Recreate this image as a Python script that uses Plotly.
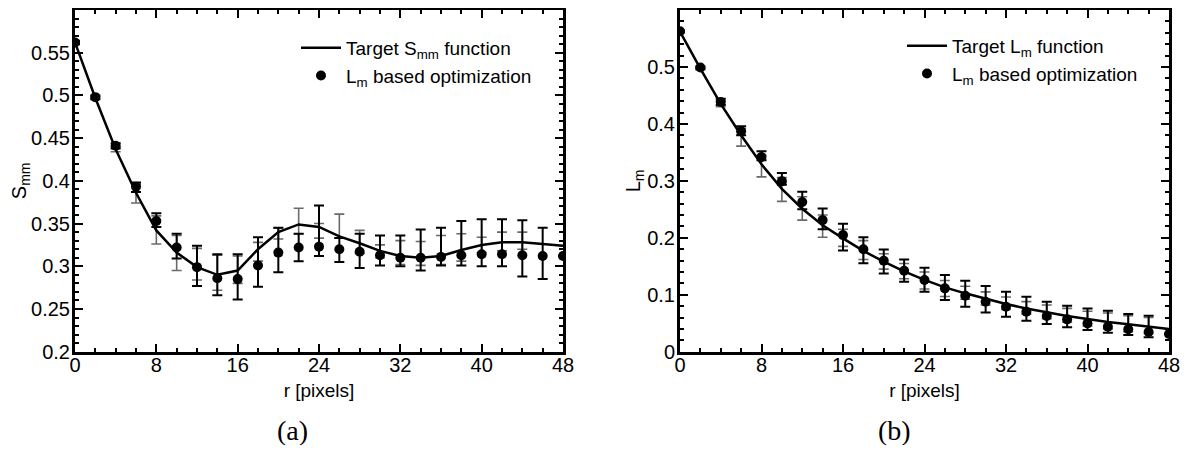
import plotly.graph_objects as go

# ---------------- data ----------------
r = [0, 2, 4, 6, 8, 10, 12, 14, 16, 18, 20, 22, 24, 26, 28, 30, 32, 34, 36, 38, 40, 42, 44, 46, 48]

# Panel (a): S_mm
smm_target = [0.562, 0.497, 0.437, 0.386, 0.342, 0.316, 0.299, 0.290, 0.295, 0.320, 0.340, 0.349, 0.346,
              0.335, 0.327, 0.318, 0.312, 0.310, 0.312, 0.319, 0.325, 0.328, 0.328, 0.326, 0.324]
smm_target_hi = [0.563, 0.499, 0.440, 0.396, 0.359, 0.336, 0.321, 0.313, 0.312, 0.328, 0.345, 0.368, 0.350,
                 0.361, 0.342, 0.325, 0.330, 0.329, 0.336, 0.338, 0.334, 0.340, 0.340, 0.326, 0.324]
smm_target_lo = [0.561, 0.495, 0.434, 0.374, 0.326, 0.295, 0.284, 0.272, 0.280, 0.306, 0.332, 0.338, 0.333,
                 0.333, 0.315, 0.310, 0.302, 0.301, 0.302, 0.306, 0.316, 0.318, 0.320, 0.326, 0.324]
smm_opt = [0.562, 0.498, 0.441, 0.393, 0.353, 0.322, 0.299, 0.286, 0.285, 0.301, 0.316, 0.322, 0.323,
           0.320, 0.317, 0.313, 0.310, 0.310, 0.311, 0.313, 0.314, 0.314, 0.313, 0.312, 0.312]
smm_opt_hi = [0.564, 0.500, 0.444, 0.398, 0.362, 0.338, 0.324, 0.314, 0.314, 0.334, 0.345, 0.338, 0.371,
              0.333, 0.338, 0.336, 0.336, 0.343, 0.345, 0.353, 0.355, 0.355, 0.354, 0.345, 0.312]
smm_opt_lo = [0.560, 0.496, 0.438, 0.387, 0.346, 0.309, 0.277, 0.266, 0.261, 0.276, 0.293, 0.306, 0.312,
              0.305, 0.298, 0.301, 0.300, 0.295, 0.301, 0.301, 0.300, 0.300, 0.288, 0.285, 0.312]

# Panel (b): L_m
lm_target = [0.562, 0.497, 0.435, 0.380, 0.329, 0.286, 0.251, 0.222, 0.199, 0.177, 0.158, 0.141, 0.126,
             0.113, 0.1025, 0.0925, 0.0837, 0.076, 0.069, 0.0626, 0.0574, 0.052, 0.048, 0.044, 0.040]
lm_target_hi = [0.563, 0.499, 0.440, 0.392, 0.345, 0.306, 0.272, 0.240, 0.215, 0.195, 0.172, 0.155, 0.140,
                0.125, 0.115, 0.105, 0.096, 0.088, 0.082, 0.076, 0.071, 0.068, 0.063, 0.060, 0.040]
lm_target_lo = [0.561, 0.495, 0.430, 0.361, 0.307, 0.264, 0.231, 0.201, 0.185, 0.162, 0.145, 0.128, 0.110,
                0.097, 0.092, 0.082, 0.074, 0.066, 0.058, 0.052, 0.045, 0.040, 0.035, 0.032, 0.040]
lm_opt = [0.5626, 0.499, 0.4386, 0.387, 0.342, 0.2995, 0.263, 0.231, 0.2047, 0.180, 0.1597, 0.1421, 0.1258,
          0.1112, 0.0983, 0.0877, 0.079, 0.0702, 0.0626, 0.0568, 0.0498, 0.0439, 0.0393, 0.0346, 0.031]
lm_opt_hi = [0.564, 0.501, 0.444, 0.396, 0.352, 0.314, 0.281, 0.2515, 0.2245, 0.201, 0.1796, 0.162, 0.1474,
             0.1346, 0.1246, 0.1153, 0.1053, 0.0965, 0.0877, 0.0807, 0.076, 0.072, 0.0661, 0.0632, 0.031]
lm_opt_lo = [0.561, 0.497, 0.433, 0.380, 0.336, 0.293, 0.250, 0.215, 0.1775, 0.1555, 0.1375, 0.1228, 0.1053,
             0.0907, 0.079, 0.069, 0.0614, 0.0544, 0.0486, 0.0428, 0.038, 0.0333, 0.0293, 0.0253, 0.031]

x_ticks = [0, 8, 16, 24, 32, 40, 48]
ya_ticks = [0.2, 0.25, 0.3, 0.35, 0.4, 0.45, 0.5, 0.55]
ya_text = ["0.2", "0.25", "0.3", "0.35", "0.4", "0.45", "0.5", "0.55"]
yb_ticks = [0, 0.1, 0.2, 0.3, 0.4, 0.5]
yb_text = ["0", "0.1", "0.2", "0.3", "0.4", "0.5"]

FONT = "Liberation Sans, Arial, Helvetica, sans-serif"
SERIF = "Liberation Serif, DejaVu Serif, serif"
GREY = "#6a6a6a"

# page body has an 8px margin; figure is sized to fit the window inside it
W, H, OFF = 1173, 437, 8


def fx(p):
    return (p - OFF) / W


def fy(p):
    return 1 - (p - OFF) / H


def err(center, hi, lo):
    return ([h - c for h, c in zip(hi, center)], [c - l for c, l in zip(center, lo)])


fig = go.Figure()


def add_panel(target, t_hi, t_lo, opt, o_hi, o_lo, xa, ya, leg, name_target):
    tp, tm = err(target, t_hi, t_lo)
    op, om = err(opt, o_hi, o_lo)
    # grey error bars of the target
    fig.add_trace(go.Scatter(x=r, y=target, mode="lines", line=dict(color="rgba(0,0,0,0)", width=0),
                             error_y=dict(type="data", symmetric=False, array=tp, arrayminus=tm,
                                          color=GREY, thickness=1.6, width=5),
                             showlegend=False, xaxis=xa, yaxis=ya, hoverinfo="skip"))
    # black error bars of the optimization
    fig.add_trace(go.Scatter(x=r, y=opt, mode="markers", marker=dict(color="rgba(0,0,0,0)", size=1),
                             error_y=dict(type="data", symmetric=False, array=op, arrayminus=om,
                                          color="black", thickness=2, width=5),
                             showlegend=False, xaxis=xa, yaxis=ya, hoverinfo="skip"))
    fig.add_trace(go.Scatter(x=r, y=target, mode="lines", line=dict(color="black", width=2.5),
                             name=name_target, legend=leg, xaxis=xa, yaxis=ya))
    fig.add_trace(go.Scatter(x=r, y=opt, mode="markers", marker=dict(color="black", size=10),
                             name="L<sub>m</sub> based optimization", legend=leg, xaxis=xa, yaxis=ya))


add_panel(smm_target, smm_target_hi, smm_target_lo, smm_opt, smm_opt_hi, smm_opt_lo,
          "x", "y", "legend", "Target S<sub>mm</sub> function")
add_panel(lm_target, lm_target_hi, lm_target_lo, lm_opt, lm_opt_hi, lm_opt_lo,
          "x2", "y2", "legend2", "Target L<sub>m</sub> function")

Y0, Y1 = fy(351.7), fy(10)

axis_common = dict(showline=True, linecolor="black", linewidth=3, mirror="allticks",
                   ticks="inside", ticklen=8, tickwidth=1.5, tickcolor="black",
                   showgrid=False, zeroline=False, automargin=False,
                   tickfont=dict(family=FONT, size=20, color="black"))

xaxis_common = dict(axis_common, range=[0, 48], tickmode="array", tickvals=x_ticks,
                    ticktext=[str(v) for v in x_ticks], ticklabelstandoff=-7,
                    minor=dict(dtick=2, tick0=0, ticks="inside", ticklen=4, tickwidth=1.5, tickcolor="black"),
                    title=dict(text="r [pixels]", font=dict(family=FONT, size=19, color="black"), standoff=9))

yaxis_common = dict(axis_common, ticklabelstandoff=-2)

fig.update_layout(
    width=W, height=H,
    margin=dict(l=0, r=0, t=0, b=0),
    paper_bgcolor="white", plot_bgcolor="white",
    showlegend=True,
    xaxis=dict(xaxis_common, domain=[fx(75), fx(563)], anchor="y"),
    yaxis=dict(yaxis_common, domain=[Y0, Y1], anchor="x", range=[0.2, 0.6], tickmode="array",
               tickvals=ya_ticks, ticktext=ya_text,
               minor=dict(dtick=0.01, tick0=0.2, ticks="inside", ticklen=4, tickwidth=1.5, tickcolor="black"),
               title=dict(text="S<sub>mm</sub>", font=dict(family=FONT, size=20, color="black"), standoff=2)),
    xaxis2=dict(xaxis_common, domain=[fx(680), fx(1169)], anchor="y2"),
    yaxis2=dict(yaxis_common, domain=[Y0, Y1], anchor="x2", range=[0, 0.6], tickmode="array",
                tickvals=yb_ticks, ticktext=yb_text,
                minor=dict(dtick=0.02, tick0=0, ticks="inside", ticklen=4, tickwidth=1.5, tickcolor="black"),
                title=dict(text="L<sub>m</sub>", font=dict(family=FONT, size=20, color="black"), standoff=2)),
    legend=dict(x=fx(296), y=fy(29), xanchor="left", yanchor="top", bgcolor="rgba(0,0,0,0)",
                font=dict(family=FONT, size=19, color="black"), tracegroupgap=0, itemwidth=40),
    legend2=dict(x=fx(902), y=fy(27), xanchor="left", yanchor="top", bgcolor="rgba(0,0,0,0)",
                 font=dict(family=FONT, size=19, color="black"), tracegroupgap=0, itemwidth=40),
    annotations=[
        dict(text="(a)", x=fx(292), y=fy(430), xref="paper", yref="paper", showarrow=False,
             xanchor="center", yanchor="middle",
             font=dict(family=SERIF, size=28, color="black")),
        dict(text="(b)", x=fx(895), y=fy(430), xref="paper", yref="paper", showarrow=False,
             xanchor="center", yanchor="middle",
             font=dict(family=SERIF, size=28, color="black")),
    ],
)

fig.write_html("out.html")
